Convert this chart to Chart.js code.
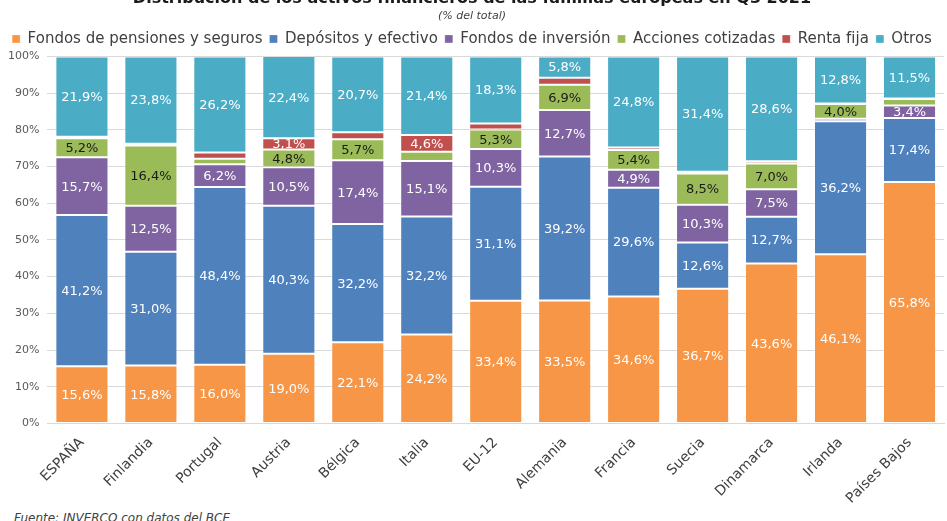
<!DOCTYPE html>
<html lang="es">
<head>
<meta charset="utf-8">
<script src="https://cdn.jsdelivr.net/npm/chart.js@4.4.1/dist/chart.umd.min.js"></script>
<style>
  html, body { margin: 0; padding: 0; background: #fff; overflow: hidden; }
  #wrap { position: relative; width: 947px; height: 521px; overflow: hidden; }
  #chart-box { position: absolute; left: 0; top: -11px; width: 947px; height: 521px; }
  #fuente { position: absolute; left: 14px; top: 511px; font: italic 12px "DejaVu Sans", sans-serif; color: #404040; }
</style>
</head>
<body>
<div id="wrap">
  <div id="chart-box"><canvas id="grafico"></canvas></div>
  <div id="fuente">Fuente: INVERCO con datos del BCE</div>
</div>
<script>
// Datos (% del total)
const paises = ['ESPAÑA', 'Finlandia', 'Portugal', 'Austria', 'Bélgica', 'Italia', 'EU-12',
                'Alemania', 'Francia', 'Suecia', 'Dinamarca', 'Irlanda', 'Países Bajos'];
const pensiones = [15.6, 15.8, 16.0, 19.0, 22.1, 24.2, 33.4, 33.5, 34.6, 36.7, 43.6, 46.1, 65.8];
const depositos = [41.2, 31.0, 48.4, 40.3, 32.2, 32.2, 31.1, 39.2, 29.6, 12.6, 12.7, 36.2, 17.4];
const fondosInv = [15.7, 12.5, 6.2, 10.5, 17.4, 15.1, 10.3, 12.7, 4.9, 10.3, 7.5, 0.7, 3.4];
const acciones  = [5.2, 16.4, 1.5, 4.8, 5.7, 2.5, 5.3, 6.9, 5.4, 8.5, 7.0, 4.0, 1.8];
const rentaFija = [0.4, 0.5, 1.7, 3.1, 1.9, 4.6, 1.6, 1.9, 0.7, 0.5, 0.6, 0.2, 0.1];
const otros     = [21.9, 23.8, 26.2, 22.4, 20.7, 21.4, 18.3, 5.8, 24.8, 31.4, 28.6, 12.8, 11.5];
const ticksY = [0, 10, 20, 30, 40, 50, 60, 70, 80, 90, 100];

const fuente = '"DejaVu Sans", sans-serif';

// Etiquetas de valor dentro de cada segmento (solo los de 3% o mas)
const etiquetasPlugin = {
    id: 'etiquetas',
    afterDatasetsDraw(chart) {
        const ctx = chart.ctx;
        ctx.save();
        ctx.font = '13px ' + fuente;
        ctx.textAlign = 'center';
        ctx.textBaseline = 'middle';
        chart.data.datasets.forEach((ds, i) => {
            const meta = chart.getDatasetMeta(i);
            meta.data.forEach((bar, j) => {
                const v = ds.data[j];
                if (v < 3) return;
                ctx.fillStyle = ds.labelColor;
                ctx.fillText(v.toFixed(1).replace('.', ',') + '%', bar.x, (bar.y + bar.base) / 2 + 1);
            });
        });
        ctx.restore();
    }
};

function serie(nombre, datos, color, colorTexto) {
    return {
        label: nombre,
        data: datos,
        backgroundColor: color,
        borderColor: 'rgba(255,255,255,0.3)',
        borderWidth: 1,
        borderSkipped: false,
        labelColor: colorTexto,
        barPercentage: 0.77,
        categoryPercentage: 1
    };
}

new Chart(document.getElementById('grafico'), {
    type: 'bar',
    data: {
        labels: paises,
        datasets: [
            serie('Fondos de pensiones y seguros', pensiones, '#F79646', '#ffffff'),
            serie('Depósitos y efectivo', depositos, '#4F81BD', '#ffffff'),
            serie('Fondos de inversión', fondosInv, '#8064A2', '#ffffff'),
            serie('Acciones cotizadas', acciones, '#9BBB59', '#1a1a1a'),
            serie('Renta fija', rentaFija, '#C0504D', '#ffffff'),
            serie('Otros', otros, '#4BACC6', '#ffffff')
        ]
    },
    options: {
        responsive: true,
        maintainAspectRatio: false,
        animation: false,
        layout: { padding: { left: 0, right: 3, top: 0, bottom: 0 } },
        scales: {
            x: {
                stacked: true,
                grid: { display: false },
                border: { color: '#d9d9d9' },
                ticks: {
                    color: '#404040',
                    font: { family: fuente, size: 14 },
                    minRotation: 45,
                    maxRotation: 45,
                    autoSkip: false
                }
            },
            y: {
                stacked: true,
                min: 0,
                max: 100,
                afterBuildTicks: axis => { axis.ticks = ticksY.map(v => ({ value: v })); },
                grid: { color: '#d9d9d9', drawTicks: false },
                border: { display: false },
                ticks: {
                    color: '#595959',
                    padding: 8,
                    font: { family: fuente, size: 11 },
                    callback: v => v + '%'
                }
            }
        },
        plugins: {
            title: {
                display: true,
                text: 'Distribución de los activos financieros de las familias europeas en Q3 2021',
                color: '#1a1a1a',
                font: { family: fuente, size: 16, weight: 'bold' },
                padding: { top: 0, bottom: 1 }
            },
            subtitle: {
                display: true,
                text: '(% del total)',
                color: '#404040',
                font: { family: fuente, size: 11, style: 'italic' },
                padding: { top: 0, bottom: 2 }
            },
            legend: {
                position: 'top',
                labels: {
                    color: '#404040',
                    font: { family: fuente, size: 15 },
                    boxWidth: 8,
                    boxHeight: 8,
                    padding: 7
                }
            },
            tooltip: { enabled: false }
        }
    },
    plugins: [etiquetasPlugin]
});
</script>
</body>
</html>
